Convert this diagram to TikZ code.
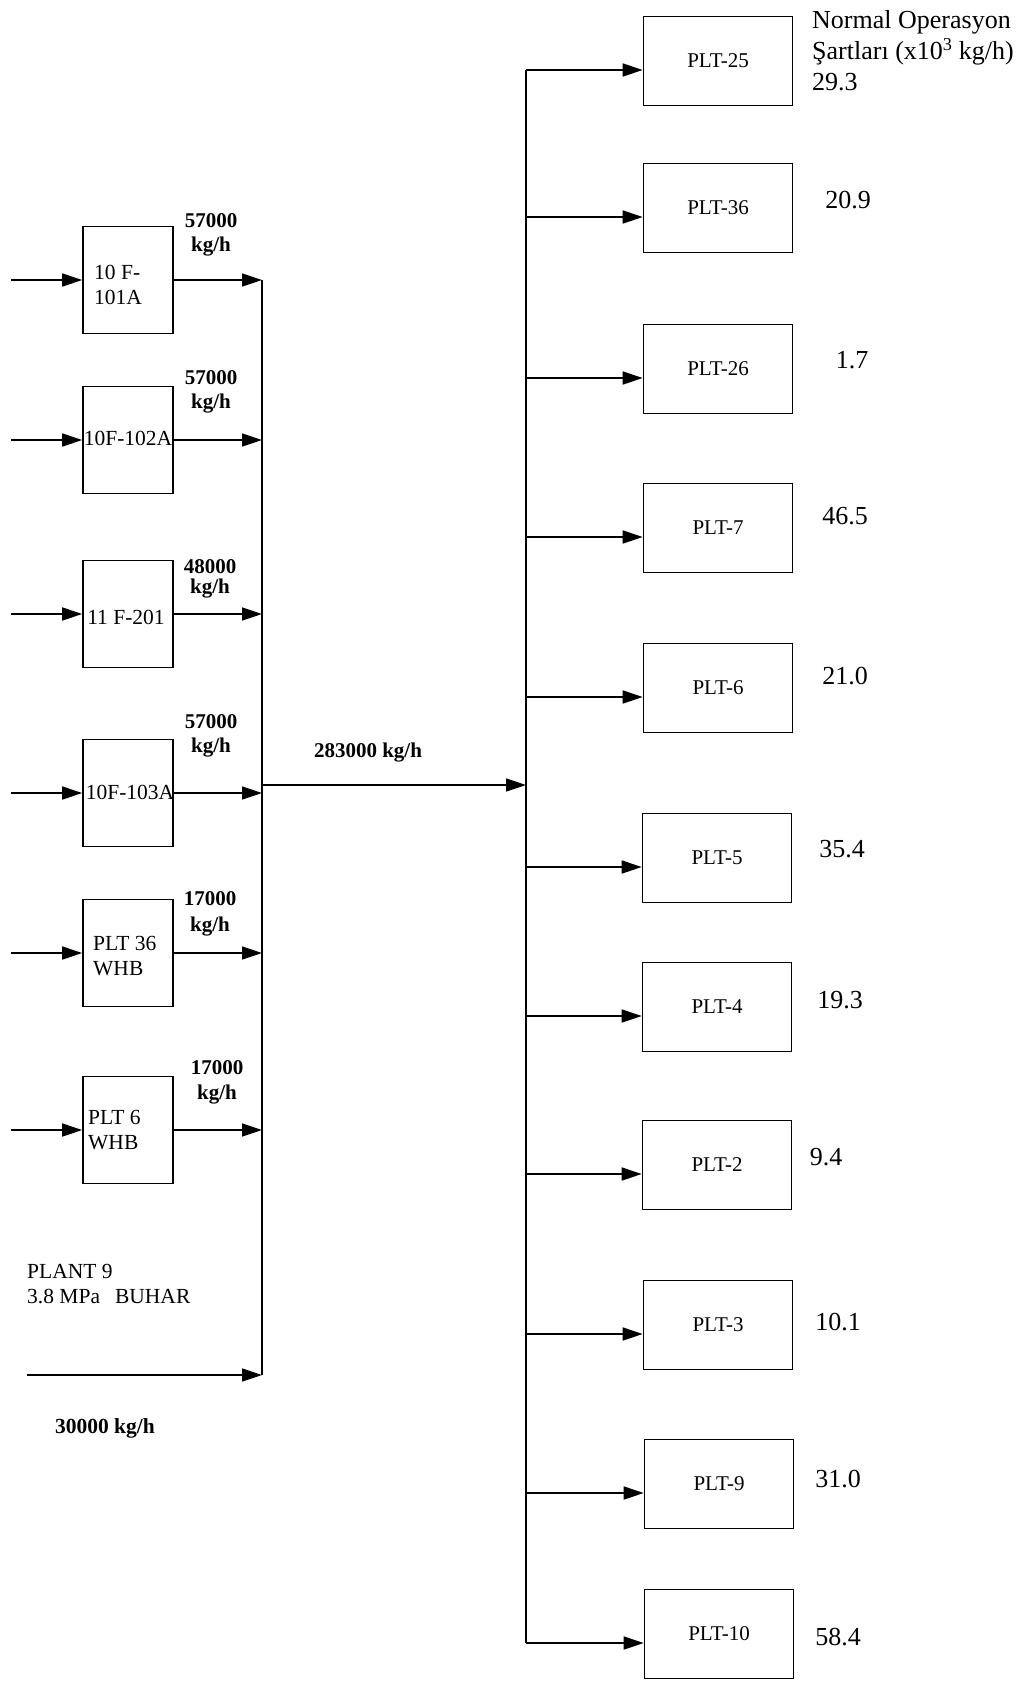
\documentclass[tikz,border=0pt]{standalone}
\usepackage{fontspec}
\setmainfont{Liberation Serif}
\usetikzlibrary{arrows.meta}
\begin{document}
\begin{tikzpicture}[x=1pt,y=-1pt,
  lbox/.style={draw, line width=1.6pt, minimum width=90pt, minimum height=107pt, inner sep=0pt},
  rbox/.style={draw, line width=1.6pt, minimum width=149pt, minimum height=89pt, inner sep=0pt, font=\fontsize{21}{24}\selectfont},
  btext/.style={font=\fontsize{21.5}{25}\selectfont, align=left, inner sep=0pt},
  flow/.style={font=\fontsize{21}{24}\selectfont\bfseries, align=center, inner sep=0pt},
  val/.style={font=\fontsize{26}{30}\selectfont, inner sep=0pt},
  bus/.style={line width=1.6pt},
  arr/.style={line width=1.6pt, -{Triangle[length=20pt,width=13pt]}},
]
\useasboundingbox (0,0) rectangle (1031,1682);

% ---------- left boxes ----------
\node[lbox] (b1) at (128,280) {};
\node[lbox] (b2) at (128,440) {};
\node[lbox] (b3) at (128,614) {};
\node[lbox] (b4) at (128,793) {};
\node[lbox] (b5) at (128,953) {};
\node[lbox] (b6) at (128,1130) {};

\node[btext, anchor=west] (t1) at (94,285) {10 F-\\101A};
\node[btext] (t2) at (128,438) {10F-102A};
\node[btext] (t3) at (126,617) {11 F-201};
\node[btext] (t4) at (130,792) {10F-103A};
\node[btext, anchor=west] (t5) at (93,956) {PLT 36\\WHB};
\node[btext, anchor=west] (t6) at (88,1130) {PLT 6\\WHB};

% flow labels
\node[flow] (f1) at (211,235) {57000\\kg/h};
\node[flow] (f2) at (211,392) {57000\\kg/h};
\node[flow, font=\fontsize{21}{20}\selectfont\bfseries] (f3) at (210,579) {48000\\kg/h};
\node[flow] (f4) at (211,736) {57000\\kg/h};
\node[flow, font=\fontsize{21}{26}\selectfont\bfseries] (f5) at (210,914) {17000\\kg/h};
\node[flow, font=\fontsize{21}{25}\selectfont\bfseries] (f6) at (217,1082) {17000\\kg/h};

% inputs
\coordinate (i1) at (11,280);
\coordinate (i2) at (11,440);
\coordinate (i3) at (11,614);
\coordinate (i4) at (11,793);
\coordinate (i5) at (11,953);
\coordinate (i6) at (11,1130);
\coordinate (i7) at (27,1375);

% left bus
\coordinate (L1) at (262,280);
\coordinate (L2) at (262,440);
\coordinate (L3) at (262,614);
\coordinate (L4) at (262,793);
\coordinate (L5) at (262,953);
\coordinate (L6) at (262,1130);
\coordinate (L7) at (262,1375);
\coordinate (M1) at (262,785);
\draw[bus] (L1) -- (L7);

\foreach \k in {1,...,6}{
  \draw[arr] (i\k) -- (b\k.west);
  \draw[arr] (b\k.east) -- (L\k);
}
\draw[arr] (i7) -- (L7);

\node[btext, anchor=west] (p9) at (27,1284) {PLANT 9\\3.8 MPa\hspace{0.7em}BUHAR};
\node[flow, font=\fontsize{21.5}{24}\selectfont\bfseries] (f7) at (105,1428) {30000 kg/h};

% main line
\coordinate (R0) at (526,785);
\draw[arr] (M1) -- (R0);
\node[flow] (fm) at (368,753) {283000 kg/h};

% ---------- right boxes ----------
\node[rbox] (r1) at (718,61) {PLT-25};
\node[rbox] (r2) at (718,208) {PLT-36};
\node[rbox] (r3) at (718,369) {PLT-26};
\node[rbox] (r4) at (718,528) {PLT-7};
\node[rbox] (r5) at (718,688) {PLT-6};
\node[rbox] (r6) at (717,858) {PLT-5};
\node[rbox] (r7) at (717,1007) {PLT-4};
\node[rbox] (r8) at (717,1165) {PLT-2};
\node[rbox] (r9) at (718,1325) {PLT-3};
\node[rbox] (r10) at (719,1484) {PLT-9};
\node[rbox] (r11) at (719,1634) {PLT-10};

\coordinate (B1) at (526,70);
\coordinate (B2) at (526,217);
\coordinate (B3) at (526,378);
\coordinate (B4) at (526,537);
\coordinate (B5) at (526,697);
\coordinate (B6) at (526,867);
\coordinate (B7) at (526,1016);
\coordinate (B8) at (526,1174);
\coordinate (B9) at (526,1334);
\coordinate (B10) at (526,1493);
\coordinate (B11) at (526,1643);
\draw[bus] (B1) -- (B11);
\foreach \k in {1,...,11}{
  \draw[arr] (B\k) -- ([yshift=-9pt]r\k.west);
}

% values
\node[val, anchor=west, align=left, font=\fontsize{26}{31}\selectfont] (hdr) at (812,51) {Normal Operasyon\\Şartları (x10\textsuperscript{3} kg/h)\\29.3};
\node[val] (v2) at (848,200) {20.9};
\node[val] (v3) at (852,360) {1.7};
\node[val] (v4) at (845,516) {46.5};
\node[val] (v5) at (845,676) {21.0};
\node[val] (v6) at (842,849) {35.4};
\node[val] (v7) at (840,1000) {19.3};
\node[val] (v8) at (826,1157) {9.4};
\node[val] (v9) at (838,1322) {10.1};
\node[val] (v10) at (838,1479) {31.0};
\node[val] (v11) at (838,1637) {58.4};
\end{tikzpicture}
\end{document}
